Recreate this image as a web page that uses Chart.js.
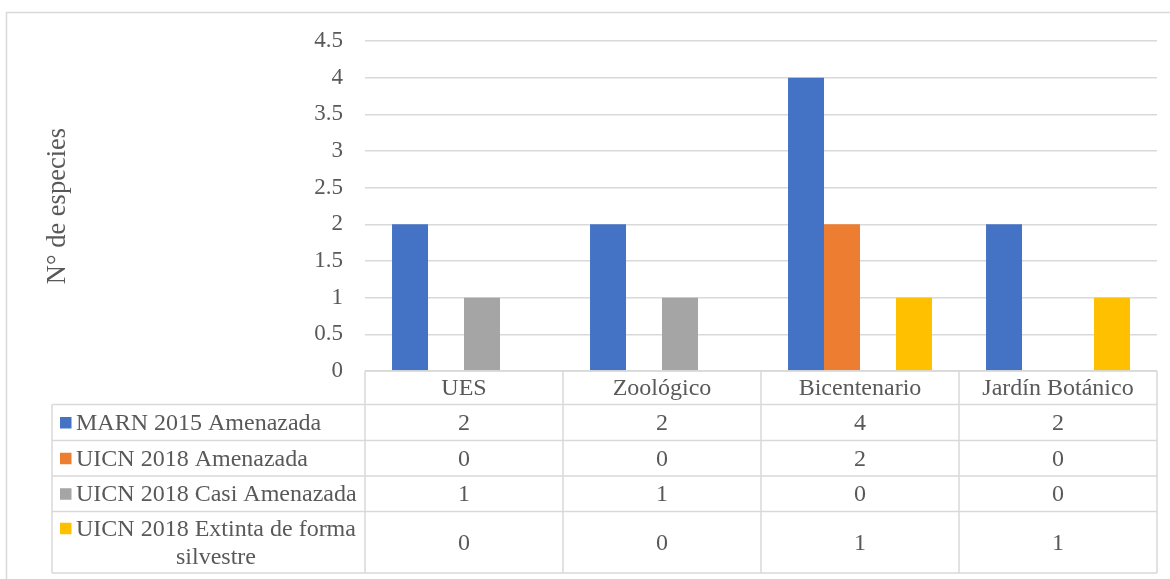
<!DOCTYPE html>
<html>
<head>
<meta charset="utf-8">
<script src="https://cdn.jsdelivr.net/npm/chart.js@4/dist/chart.umd.min.js"></script>
<style>
  html, body { margin: 0; padding: 0; background: #ffffff; }
  #wrap { width: 1170px; height: 579px; position: relative; }
</style>
</head>
<body>
<div id="wrap"><canvas id="chart" width="1170" height="579"></canvas></div>
<script>
// Sites and counts of threatened species per list
const categories = ['UES', 'Zoológico', 'Bicentenario', 'Jardín Botánico'];
const marn2015Amenazada = [2, 2, 4, 2];
const uicn2018Amenazada = [0, 0, 2, 0];
const uicn2018CasiAmenazada = [1, 1, 0, 0];
const uicn2018ExtintaSilvestre = [0, 0, 1, 1];
const seriesNames = [
  'MARN 2015 Amenazada',
  'UICN 2018 Amenazada',
  'UICN 2018 Casi Amenazada',
  'UICN 2018 Extinta de forma silvestre'
];
// Label lines as shown in the table (the last one wraps)
const seriesLabelLines = [
  ['MARN 2015 Amenazada'],
  ['UICN 2018 Amenazada'],
  ['UICN 2018 Casi Amenazada'],
  ['UICN 2018 Extinta de forma', 'silvestre']
];
const seriesColors = ['#4472C4', '#ED7D31', '#A5A5A5', '#FFC000'];
const yAxisTitle = 'N° de especies';
const yMax = 4.5;
const yStep = 0.5;

const FONT = "'Liberation Serif', 'Times New Roman', serif";
const TEXT = '#595959';
const LINE = '#d9d9d9';

const seriesValues = [marn2015Amenazada, uicn2018Amenazada, uicn2018CasiAmenazada, uicn2018ExtintaSilvestre];

// Outer frame of the chart
const framePlugin = {
  id: 'frame',
  beforeDraw(chart) {
    const ctx = chart.ctx;
    ctx.save();
    ctx.strokeStyle = LINE;
    ctx.lineWidth = 1.5;
    ctx.beginPath();
    ctx.moveTo(6.5, chart.height);
    ctx.lineTo(6.5, 12.5);
    ctx.lineTo(chart.width, 12.5);
    ctx.stroke();
    ctx.restore();
  }
};

// Data table drawn under the plot, columns aligned with the category scale
const tablePlugin = {
  id: 'dataTable',
  afterDraw(chart) {
    const ctx = chart.ctx;
    const area = chart.chartArea;
    const n = categories.length;
    const colW = (area.right - area.left) / n;
    const labelLeft = 52;
    const headerTop = area.bottom;
    const rowEdges = [headerTop, 404.5, 440.5, 476, 511.5, 573];

    ctx.save();
    ctx.strokeStyle = LINE;
    ctx.lineWidth = 1.5;

    // horizontal lines
    ctx.beginPath();
    ctx.moveTo(area.left, rowEdges[0]);
    ctx.lineTo(area.right, rowEdges[0]);
    for (let r = 1; r < rowEdges.length; r++) {
      ctx.moveTo(labelLeft, rowEdges[r]);
      ctx.lineTo(area.right, rowEdges[r]);
    }
    // vertical lines
    ctx.moveTo(labelLeft, rowEdges[1]);
    ctx.lineTo(labelLeft, rowEdges[rowEdges.length - 1]);
    for (let c = 0; c <= n; c++) {
      const x = area.left + c * colW;
      ctx.moveTo(x, rowEdges[0]);
      ctx.lineTo(x, rowEdges[rowEdges.length - 1]);
    }
    ctx.stroke();

    ctx.fillStyle = TEXT;
    ctx.font = '24px ' + FONT;
    ctx.textBaseline = 'middle';
    ctx.textAlign = 'center';

    // category header
    const xs = chart.scales.x;
    const headerMid = (rowEdges[0] + rowEdges[1]) / 2 + 1;
    categories.forEach((cat, i) => {
      ctx.fillText(cat, xs.getPixelForValue(i), headerMid);
    });

    // series rows
    seriesValues.forEach((vals, s) => {
      const top = rowEdges[s + 1];
      const bottom = rowEdges[s + 2];
      const mid = (top + bottom) / 2 + 1;
      ctx.fillStyle = TEXT;
      ctx.textAlign = 'center';
      vals.forEach((v, i) => {
        ctx.fillText(String(v), xs.getPixelForValue(i), mid);
      });

      const lines = seriesLabelLines[s];
      const lineH = 28;
      const firstY = mid - (lines.length - 1) * lineH / 2;
      // legend key
      ctx.fillStyle = seriesColors[s];
      ctx.fillRect(60, firstY - 6.5, 11.5, 11.5);
      // label text: first line left aligned, following lines centred on it
      ctx.fillStyle = TEXT;
      ctx.textAlign = 'left';
      const textX = 76;
      const w0 = ctx.measureText(lines[0]).width;
      ctx.fillText(lines[0], textX, firstY);
      ctx.textAlign = 'center';
      for (let k = 1; k < lines.length; k++) {
        ctx.fillText(lines[k], textX + w0 / 2, firstY + k * lineH);
      }
    });
    ctx.restore();
  }
};

new Chart(document.getElementById('chart'), {
  type: 'bar',
  data: {
    labels: categories,
    datasets: seriesValues.map((vals, s) => ({
      label: seriesNames[s],
      data: vals,
      backgroundColor: seriesColors[s],
      borderWidth: 0,
      categoryPercentage: 0.727,
      barPercentage: 1.0
    }))
  },
  options: {
    responsive: false,
    animation: false,
    devicePixelRatio: 1,
    layout: { padding: { left: 0, right: 13, top: 41, bottom: 208 } },
    plugins: {
      legend: { display: false },
      tooltip: { enabled: false },
      title: { display: false }
    },
    scales: {
      x: {
        display: false
      },
      y: {
        min: 0,
        max: yMax,
        afterFit(scale) { scale.width = 365; },
        border: { display: false },
        grid: { color: LINE, lineWidth: 1.5, drawTicks: false },
        ticks: {
          stepSize: yStep,
          padding: 22,
          color: TEXT,
          font: { family: FONT, size: 23 },
          callback: (v) => String(v)
        },
        title: {
          display: true,
          text: yAxisTitle,
          color: TEXT,
          font: { family: FONT, size: 26.5, weight: 'normal' },
          padding: { top: 42, bottom: 0 }
        }
      }
    }
  },
  plugins: [framePlugin, tablePlugin]
});
</script>
</body>
</html>
